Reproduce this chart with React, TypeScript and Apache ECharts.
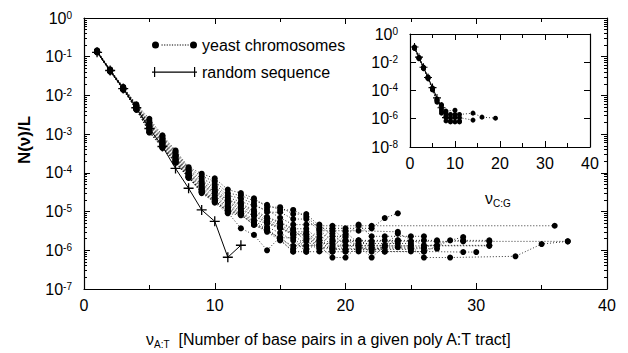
import React, { useEffect, useRef } from 'react';
import * as echarts from 'echarts';

const FONT = '"Liberation Sans", Arial, sans-serif';

// ---- axes ----
const nuTicks = [0, 10, 20, 30, 40];
const mainDecades = [-7, -6, -5, -4, -3, -2, -1, 0];
const insetDecades = [-8, -6, -4, -2, 0];

// ---- random sequence, A:T tracts ----
const randomAT: [number, number][] = [
  [1, 0.13], [2, 0.044], [3, 0.015], [4, 4.8e-3], [5, 1.4e-3], [6, 4.8e-4],
  [7, 1.3e-4], [8, 4.0e-5], [9, 1.1e-5], [10, 5.6e-6], [11, 6.6e-7], [12, 1.35e-6],
];

// ---- yeast chromosomes, A:T tracts ----
const chrI: [number, number][] = [[1,0.145],[2,0.047],[3,0.0166],[4,5.9e-3],[5,2.5e-3],[6,9.3e-4],[7,3.8e-4],[8,1.4e-4],[9,9.5e-5],[10,7.2e-5],[11,3.7e-5],[12,3.0e-5],[13,2.2e-5],[14,1.3e-5],[15,1.3e-5],[16,8.6e-6],[17,8.6e-6],[18,4.3e-6],[19,4.3e-6],[21,4.3e-6],[22,4.3e-6],[36,4.3e-6]];
const chrVI: [number, number][] = [[1,0.142],[2,0.046],[3,0.0162],[4,5.7e-3],[5,2.2e-3],[6,8.6e-4],[7,3.5e-4],[8,1.3e-4],[9,8.2e-5],[10,6.0e-5],[11,3.0e-5],[12,2.6e-5],[13,1.9e-5],[14,1.5e-5],[15,1.1e-5],[16,1.1e-5],[17,7.4e-6],[18,3.7e-6],[20,3.7e-6],[22,3.7e-6],[23,6.8e-6],[24,9.0e-6]];
const chrIII: [number, number][] = [[1,0.141],[2,0.0455],[3,0.0158],[4,5.5e-3],[5,2.0e-3],[6,8.0e-4],[7,3.3e-4],[8,1.2e-4],[9,7.0e-5],[10,5.0e-5],[11,2.6e-5],[12,2.2e-5],[13,1.6e-5],[14,9.6e-6],[15,9.6e-6],[16,6.4e-6],[17,6.4e-6],[18,3.2e-6],[19,3.2e-6],[20,3.2e-6],[21,3.2e-6],[24,3.0e-6]];
const chrIX: [number, number][] = [[1,0.14],[2,0.045],[3,0.0156],[4,5.4e-3],[5,1.9e-3],[6,7.5e-4],[7,3.0e-4],[8,1.15e-4],[9,6.0e-5],[10,4.3e-5],[11,2.3e-5],[12,1.8e-5],[13,1.4e-5],[14,1.1e-5],[15,6.9e-6],[16,4.6e-6],[17,4.6e-6],[18,4.6e-6],[19,2.3e-6],[20,2.3e-6],[21,4.6e-6],[22,2.3e-6],[23,2.3e-6],[25,2.3e-6],[26,2.3e-6]];
const chrVIII: [number, number][] = [[1,0.139],[2,0.0448],[3,0.0155],[4,5.3e-3],[5,1.8e-3],[6,7.0e-4],[7,2.8e-4],[8,1.05e-4],[9,5.4e-5],[10,3.8e-5],[11,2.0e-5],[12,1.6e-5],[13,1.1e-5],[14,7.2e-6],[15,5.4e-6],[16,3.6e-6],[17,3.6e-6],[18,1.8e-6],[19,3.6e-6],[20,1.8e-6],[21,1.8e-6],[23,1.8e-6],[24,1.8e-6],[26,1.8e-6],[27,1.8e-6]];
const chrV: [number, number][] = [[1,0.138],[2,0.0445],[3,0.0153],[4,5.2e-3],[5,1.75e-3],[6,6.6e-4],[7,2.7e-4],[8,1.0e-4],[9,5.0e-5],[10,3.4e-5],[11,1.9e-5],[12,1.5e-5],[13,1.0e-5],[14,6.8e-6],[15,5.1e-6],[16,3.4e-6],[17,1.7e-6],[18,3.4e-6],[19,1.7e-6],[20,1.7e-6],[22,1.7e-6],[25,1.7e-6],[27,1.7e-6],[29,1.7e-6],[31,1.7e-6],[37,1.7e-6]];
const chrXI: [number, number][] = [[1,0.137],[2,0.044],[3,0.0152],[4,5.1e-3],[5,1.65e-3],[6,6.3e-4],[7,2.55e-4],[8,9.6e-5],[9,4.6e-5],[10,3.2e-5],[11,1.7e-5],[12,1.35e-5],[13,9.0e-6],[14,6.0e-6],[15,4.5e-6],[16,3.0e-6],[17,3.0e-6],[18,1.5e-6],[19,1.5e-6],[20,3.0e-6],[21,1.5e-6],[22,1.5e-6],[24,1.5e-6],[25,1.5e-6]];
const chrX: [number, number][] = [[1,0.1365],[2,0.0438],[3,0.015],[4,5.0e-3],[5,1.6e-3],[6,6.0e-4],[7,2.45e-4],[8,9.2e-5],[9,4.3e-5],[10,3.0e-5],[11,1.6e-5],[12,1.2e-5],[13,8.0e-6],[14,5.4e-6],[15,4.0e-6],[16,2.7e-6],[17,2.7e-6],[18,1.34e-6],[19,2.7e-6],[20,1.34e-6],[21,1.34e-6],[23,1.34e-6],[24,2.7e-6],[26,1.34e-6],[27,1.34e-6],[31,1.34e-6]];
const chrXIV: [number, number][] = [[1,0.136],[2,0.0435],[3,0.0149],[4,4.9e-3],[5,1.5e-3],[6,5.7e-4],[7,2.3e-4],[8,8.8e-5],[9,4.0e-5],[10,2.6e-5],[11,1.4e-5],[12,1.1e-5],[13,7.7e-6],[14,5.1e-6],[15,3.8e-6],[16,2.6e-6],[17,1.3e-6],[18,2.6e-6],[19,1.3e-6],[20,1.3e-6],[22,1.3e-6],[25,1.3e-6],[27,1.3e-6],[31,1.3e-6]];
const chrII: [number, number][] = [[1,0.135],[2,0.043],[3,0.0147],[4,4.8e-3],[5,1.45e-3],[6,5.4e-4],[7,2.2e-4],[8,8.5e-5],[9,3.7e-5],[10,2.3e-5],[11,1.3e-5],[12,1.0e-5],[13,6.2e-6],[14,4.9e-6],[15,3.7e-6],[16,2.5e-6],[17,2.5e-6],[18,1.2e-6],[19,1.2e-6],[20,2.5e-6],[21,1.2e-6],[23,1.2e-6],[24,1.2e-6],[26,1.2e-6],[29,2.2e-6]];
const chrXIII: [number, number][] = [[1,0.134],[2,0.0428],[3,0.0146],[4,4.7e-3],[5,1.35e-3],[6,5.1e-4],[7,2.1e-4],[8,8.2e-5],[9,3.4e-5],[10,2.0e-5],[11,9.5e-6],[12,3.7e-6],[13,2.5e-6],[14,1.0e-6],[15,2.2e-6],[16,1.1e-6],[17,2.2e-6],[18,1.1e-6],[19,1.1e-6],[22,1.1e-6],[25,1.1e-6],[26,1.1e-6],[27,1.1e-6]];
const chrXVI: [number, number][] = [[1,0.133],[2,0.0425],[3,0.0145],[4,4.6e-3],[5,1.3e-3],[6,4.9e-4],[7,2.0e-4],[8,8.0e-5],[9,3.2e-5],[10,1.9e-5],[11,1.1e-5],[12,9.0e-6],[13,5.2e-6],[14,3.2e-6],[15,2.1e-6],[16,2.1e-6],[17,1.05e-6],[18,2.1e-6],[19,1.05e-6],[20,1.05e-6],[21,1.05e-6],[22,1.05e-6],[25,1.05e-6]];
const chrXII: [number, number][] = [[1,0.132],[2,0.042],[3,0.0143],[4,4.5e-3],[5,1.2e-3],[6,4.7e-4],[7,1.9e-4],[8,7.7e-5],[9,3.1e-5],[10,1.8e-5],[11,1.0e-5],[12,8.4e-6],[13,4.7e-6],[14,3.7e-6],[15,1.9e-6],[16,9.3e-7],[17,1.9e-6],[18,9.3e-7],[19,1.9e-6],[20,9.3e-7],[21,9.3e-7],[23,9.3e-7],[25,9.3e-7],[26,9.3e-7],[29,9.0e-7],[30,9.0e-7]];
const chrVII: [number, number][] = [[1,0.131],[2,0.0418],[3,0.0142],[4,4.4e-3],[5,1.15e-3],[6,4.5e-4],[7,1.85e-4],[8,7.5e-5],[9,3.0e-5],[10,1.7e-5],[11,9.0e-6],[12,8.0e-6],[13,4.6e-6],[14,3.0e-6],[15,1.8e-6],[16,9.2e-7],[17,9.2e-7],[19,9.2e-7],[20,1.8e-6],[22,9.2e-7],[24,1.8e-6]];
const chrXV: [number, number][] = [[1,0.13],[2,0.0415],[3,0.014],[4,4.3e-3],[5,1.1e-3],[6,4.4e-4],[7,1.8e-4],[8,7.4e-5],[9,3.5e-5],[10,2.1e-5],[11,1.2e-5],[12,9.5e-6],[13,5.5e-6],[14,4.0e-6],[15,2.8e-6],[16,1.8e-6],[17,9.2e-7],[18,1.8e-6],[19,9.2e-7],[20,9.2e-7],[21,1.8e-6],[23,9.2e-7],[26,9.2e-7],[28,1.8e-6],[29,1.8e-6],[31,1.8e-6]];
const chrIV: [number, number][] = [[1,0.13],[2,0.0413],[3,0.014],[4,4.3e-3],[5,1.12e-3],[6,4.6e-4],[7,1.9e-4],[8,7.6e-5],[9,3.3e-5],[10,1.8e-5],[11,1.05e-5],[12,8.5e-6],[13,4.5e-6],[14,3.3e-6],[15,1.95e-6],[16,1.3e-6],[17,1.3e-6],[18,1.3e-6],[19,6.5e-7],[20,6.5e-7],[21,1.3e-6],[22,6.5e-7],[23,1.3e-6],[25,1.3e-6],[26,6.5e-7],[28,6.5e-7],[33,7.0e-7],[35,1.45e-6],[37,1.7e-6]];

const yeastAT = [chrI, chrVI, chrIII, chrIX, chrVIII, chrV, chrXI, chrX, chrXIV, chrII, chrXIII, chrXVI, chrXII, chrVII, chrXV, chrIV];

// ---- inset: C:G tracts ----
const randomCG: [number, number][] = [[1,0.12],[2,0.023],[3,4.4e-3],[4,8.4e-4],[5,1.6e-4],[6,3.0e-5],[7,6.0e-6],[8,1.2e-6]];
const cgA: [number, number][] = [[1,0.11],[2,0.021],[3,4.2e-3],[4,8.5e-4],[5,1.4e-4],[6,2.2e-5],[7,8e-6],[8,3.5e-6],[10,4e-6],[11,2e-6],[14,2.5e-6],[16,1.3e-6],[19,1.1e-6]];
const cgB: [number, number][] = [[1,0.1],[2,0.019],[3,3.8e-3],[4,7.5e-4],[5,1.2e-4],[6,1.8e-5],[7,5e-6],[8,1.5e-6],[9,2e-6],[10,1.2e-6],[11,1.2e-6],[14,8e-7]];
const cgC: [number, number][] = [[1,0.12],[2,0.022],[3,4.5e-3],[4,9e-4],[5,1.5e-4],[6,2.5e-5],[7,3.5e-6],[8,7e-7],[9,7e-7],[10,2e-6],[11,7e-7]];
const cgD: [number, number][] = [[1,0.095],[2,0.018],[3,3.6e-3],[4,7e-4],[5,1.1e-4],[6,1.5e-5],[7,2.5e-6],[8,1.2e-6],[9,1.2e-6],[10,6e-7],[11,6e-7]];
const cgE: [number, number][] = [[1,0.105],[2,0.02],[3,4e-3],[4,8e-4],[5,1.3e-4],[6,2e-5],[7,1e-5],[8,2.5e-6],[9,6e-7],[10,1.5e-6]];
const yeastCG = [cgA, cgB, cgC, cgD, cgE];

const PLUS = 'path://M4,0h1.2v9.2h-1.2zM0,4h9.2v1.2h-9.2z';
let dots = '';
for (let x = 9.5; x < 36; x += 2.6) dots += `M${x.toFixed(1)},3h1.2v1h-1.2z`;
const yeastIcon = `path://M0,3.5a3.5,3.5 0 1 0 7,0a3.5,3.5 0 1 0 -7,0zM38,3.5a3.5,3.5 0 1 0 7,0a3.5,3.5 0 1 0 -7,0z${dots}`;
const randomIcon = 'path://M0,4.5h45v1.2h-45zM2,0h1.2v10h-1.2zM42,0h1.2v10h-1.2z';

const supRich = {
  b: { fontSize: 16, fontFamily: FONT, color: '#000', lineHeight: 16, padding: [7, 0, 0, 0], verticalAlign: 'bottom' },
  s: { fontSize: 10, fontFamily: FONT, color: '#000', lineHeight: 10, verticalAlign: 'top' },
};
const logFmt = (v: number) => `{b|10}{s|${Math.round(Math.log10(v))}}`;

function xAxisDef(gridIndex: number, position: 'bottom' | 'top', labels: boolean) {
  return {
    type: 'value', gridIndex, position,
    min: nuTicks[0], max: nuTicks[nuTicks.length - 1], interval: nuTicks[1] - nuTicks[0],
    axisLine: { show: true, onZero: false, lineStyle: { color: '#000', width: 1.2 } },
    axisTick: { show: true, inside: true, length: 6, lineStyle: { color: '#000' } },
    minorTick: { show: true, splitNumber: 2, length: 4, lineStyle: { color: '#000' } },
    splitLine: { show: false },
    axisLabel: { show: labels, margin: 8, fontSize: 16, fontFamily: FONT, color: '#000' },
  };
}

function yAxisDef(gridIndex: number, position: 'left' | 'right', labels: boolean, decades: number[], minor: boolean) {
  return {
    type: 'log', gridIndex, position, logBase: 10,
    min: Math.pow(10, decades[0]), max: Math.pow(10, decades[decades.length - 1]),
    interval: decades[1] - decades[0],
    axisLine: { show: true, onZero: false, lineStyle: { color: '#000', width: 1.2 } },
    axisTick: { show: true, inside: true, length: 6, lineStyle: { color: '#000' } },
    minorTick: { show: minor, splitNumber: 9, length: 3, lineStyle: { color: '#000' } },
    splitLine: { show: false },
    axisLabel: { show: labels, margin: 12, formatter: logFmt, rich: supRich },
  };
}

const option: any = {
  animation: false,
  backgroundColor: '#fff',
  grid: [
    { left: 84, top: 18, right: 21, bottom: 64 },
    { left: 410, top: 34, width: 180, height: 113 },
  ],
  xAxis: [
    xAxisDef(0, 'bottom', true),
    xAxisDef(0, 'top', false),
    xAxisDef(1, 'bottom', true),
    xAxisDef(1, 'top', false),
  ],
  yAxis: [
    yAxisDef(0, 'left', true, mainDecades, true),
    yAxisDef(0, 'right', false, mainDecades, true),
    yAxisDef(1, 'left', true, insetDecades, false),
    yAxisDef(1, 'right', false, insetDecades, false),
  ],
  legend: {
    left: 147, top: 32, orient: 'vertical', itemGap: 11, itemWidth: 45, itemHeight: 10,
    selectedMode: false, symbolKeepAspect: true,
    textStyle: { fontFamily: FONT, fontSize: 16, color: '#000', lineHeight: 16 },
    itemStyle: { borderWidth: 0 },
    data: [
      { name: 'yeast chromosomes', icon: yeastIcon },
      { name: 'random sequence', icon: randomIcon },
    ],
  },
  graphic: [
    {
      type: 'text', x: 24, y: 140, rotation: Math.PI / 2,
      style: { text: 'N(ν)/L', fill: '#000', font: `bold 17px ${FONT}`, align: 'center', verticalAlign: 'middle' },
    },
    {
      type: 'text', x: 146, y: 340,
      style: {
        text: '{n|ν}{s|A:T}{n|  [Number of base pairs in a given poly A:T tract]}',
        align: 'left', verticalAlign: 'middle',
        rich: {
          n: { fontSize: 16, fontFamily: FONT, fill: '#000', lineHeight: 18, verticalAlign: 'top' },
          s: { fontSize: 10, fontFamily: FONT, fill: '#000', lineHeight: 10, padding: [11, 0, 0, 0], verticalAlign: 'bottom' },
        },
      },
    },
    {
      type: 'text', x: 485, y: 199,
      style: {
        text: '{n|ν}{s|C:G}',
        align: 'left', verticalAlign: 'middle',
        rich: {
          n: { fontSize: 16, fontFamily: FONT, fill: '#000', lineHeight: 18, verticalAlign: 'top' },
          s: { fontSize: 10, fontFamily: FONT, fill: '#000', lineHeight: 10, padding: [11, 0, 0, 0], verticalAlign: 'bottom' },
        },
      },
    },
  ],
  series: [
    ...yeastAT.map((d) => ({
      type: 'line', name: 'yeast chromosomes', xAxisIndex: 0, yAxisIndex: 0, data: d,
      symbol: 'circle', symbolSize: 6, showAllSymbol: true, silent: true,
      itemStyle: { color: '#000' },
      lineStyle: { color: '#000', width: 0.8, type: [1, 2] },
      z: 2,
    })),
    {
      type: 'line', name: 'random sequence', xAxisIndex: 0, yAxisIndex: 0, data: randomAT,
      symbol: PLUS, symbolSize: 10, showAllSymbol: true, silent: true,
      itemStyle: { color: '#000' },
      lineStyle: { color: '#000', width: 1 },
      z: 3,
    },
    ...yeastCG.map((d) => ({
      type: 'line', name: 'yeast chromosomes', xAxisIndex: 2, yAxisIndex: 2, data: d,
      symbol: 'circle', symbolSize: 5, showAllSymbol: true, silent: true,
      itemStyle: { color: '#000' },
      lineStyle: { color: '#000', width: 0.8, type: [1, 2] },
      z: 2,
    })),
    {
      type: 'line', name: 'random sequence', xAxisIndex: 2, yAxisIndex: 2, data: randomCG,
      symbol: PLUS, symbolSize: 8, showAllSymbol: true, silent: true,
      itemStyle: { color: '#000' },
      lineStyle: { color: '#000', width: 1 },
      z: 3,
    },
  ],
};

export default function App() {
  const ref = useRef<HTMLDivElement>(null);
  useEffect(() => {
    const chart = echarts.init(ref.current!, null, { renderer: 'svg' });
    chart.setOption(option);
    return () => chart.dispose();
  }, []);
  return (
    <div
      ref={ref}
      style={{ position: 'fixed', left: 0, top: 0, width: 628, height: 353, background: '#fff' }}
    />
  );
}
